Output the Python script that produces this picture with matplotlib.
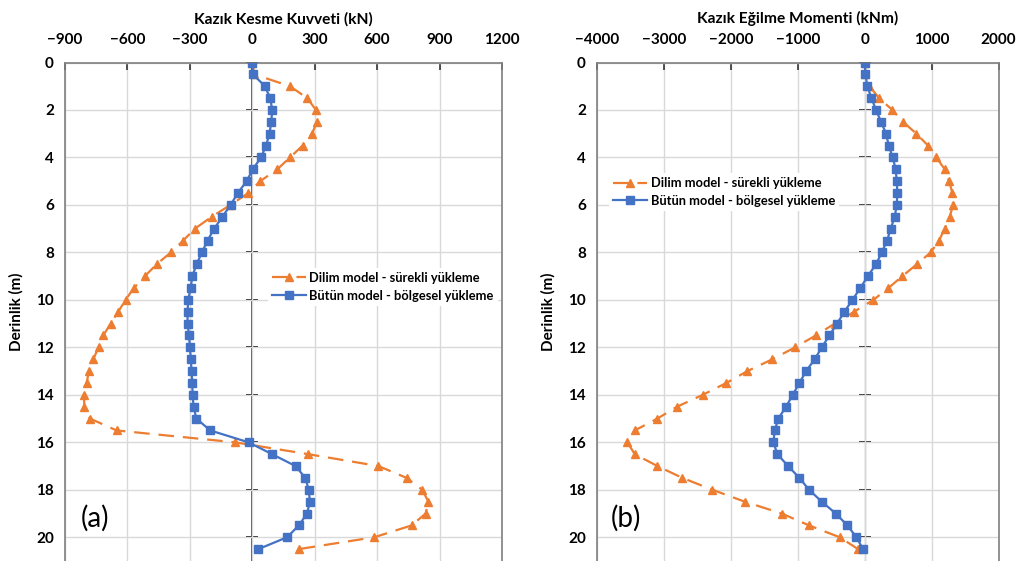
import numpy as np
import matplotlib
matplotlib.use('Agg')
import matplotlib.pyplot as plt

plt.rcParams['font.family'] = ['Lato', 'DejaVu Sans']

# derinlik (m)
depth = [0, 0.5, 1, 1.5, 2, 2.5, 3, 3.5, 4, 4.5, 5, 5.5, 6, 6.5, 7, 7.5, 8, 8.5, 9, 9.5, 10,
         10.5, 11, 11.5, 12, 12.5, 13, 13.5, 14, 14.5, 15, 15.5, 16, 16.5, 17, 17.5, 18, 18.5,
         19, 19.5, 20, 20.5]

# (a) kesme kuvveti (kN)
shear_dilim = [0, 10, 181, 264, 306, 309, 288, 242, 181, 120, 38, -19, -105, -195, -276, -332,
               -391, -460, -516, -569, -609,
               -644, -681, -716, -739, -764, -785, -796, -809, -807, -780, -652, -83, 269, 606,
               742, 817, 846, 833, 766, 586, 223]
shear_butun = [0, 3, 61, 86, 96, 91, 83, 66, 42, 2, -27, -70, -104, -144, -183, -215, -242,
               -268, -288, -296, -308,
               -311, -311, -304, -300, -295, -292, -288, -287, -282, -269, -202, -18, 95, 208,
               255, 271, 277, 263, 224, 167, 29]

# (b) egilme momenti (kNm)
moment_dilim = [0, 10, 70, 214, 413, 573, 772, 946, 1071, 1195, 1260, 1310, 1320, 1270, 1195,
                1111, 986, 777, 563, 354, 130,
                -159, -450, -732, -1041, -1379, -1753, -2067, -2420, -2804, -3098, -3436, -3546,
                -3436, -3098, -2724, -2276, -1793, -1240, -832, -373, -100]
moment_butun = [0, 10, 40, 100, 169, 244, 319, 359, 418, 463, 478, 488, 478, 448, 388, 334, 254,
                169, 45, -65, -184,
                -304, -413, -528, -642, -747, -876, -976, -1076, -1175, -1290, -1345, -1365,
                -1305, -1145, -976, -832, -642, -433, -259, -124, -25]

shear_ticks = [-900, -600, -300, 0, 300, 600, 900, 1200]
moment_ticks = [-4000, -3000, -2000, -1000, 0, 1000, 2000]
depth_ticks = [0, 2, 4, 6, 8, 10, 12, 14, 16, 18, 20]

ORANGE = '#ED7D31'
BLUE = '#4472C4'


def draw_panel(ax, x_dilim, x_butun, xticks, title, tag, legend_pos):
    ax.plot(x_dilim, depth, color=ORANGE, lw=1.6, ls=(0, (7, 4)), marker='^', ms=6,
            label='Dilim model - sürekli yükleme', zorder=3)
    ax.plot(x_butun, depth, color=BLUE, lw=1.6, marker='s', ms=5.5,
            label='Bütün model - bölgesel yükleme', zorder=4)

    ax.set_xlim(xticks[0], xticks[-1])
    ax.set_ylim(21, 0)
    ax.set_xticks(xticks)
    ax.set_yticks(depth_ticks)
    ax.xaxis.tick_top()
    ax.xaxis.set_label_position('top')
    ax.set_xlabel(title, fontsize=11.2, fontweight='bold', labelpad=7)
    ax.tick_params(axis='x', direction='in', length=5, width=1.2, color='#333333',
                   labelsize=11, pad=11)
    ax.tick_params(axis='y', length=0, labelsize=11, pad=8)
    for lab in ax.get_xticklabels() + ax.get_yticklabels():
        lab.set_fontweight('bold')

    ax.grid(True, color='#D9D9D9', lw=1.0)
    ax.set_axisbelow(True)
    for side in ['top', 'right', 'left']:
        ax.spines[side].set_color('#7F7F7F')
        ax.spines[side].set_linewidth(1.2)
    ax.spines['bottom'].set_visible(False)

    # dikey eksen x=0 noktasinda
    x0 = (0 - xticks[0]) / (xticks[-1] - xticks[0])
    sec = ax.secondary_yaxis(x0)
    sec.set_yticks(depth_ticks)
    sec.tick_params(direction='inout', length=9, width=1.2, color='black',
                    labelleft=False, labelright=False)
    sec.spines['left'].set_color('#222222')
    sec.spines['left'].set_linewidth(1.1)

    ax.text(0.035, 0.085, tag, transform=ax.transAxes, fontsize=20, ha='left', va='center')

    leg = ax.legend(loc='center left', bbox_to_anchor=legend_pos, frameon=True,
                    framealpha=1, edgecolor='none', fontsize=9.3, handlelength=2.6,
                    handletextpad=0.3, borderpad=0.3, labelspacing=0.45)
    for t in leg.get_texts():
        t.set_fontweight('bold')


fig = plt.figure(figsize=(10.21, 5.61), dpi=100)
ax1 = fig.add_axes([65 / 1021, 0.0, 437 / 1021, 498.5 / 561])
ax2 = fig.add_axes([597 / 1021, 0.0, 401.6 / 1021, 498.5 / 561])

draw_panel(ax1, shear_dilim, shear_butun, shear_ticks, 'Kazık Kesme Kuvveti (kN)', '(a)',
           (0.45, 0.55))
draw_panel(ax2, moment_dilim, moment_butun, moment_ticks, 'Kazık Eğilme Momenti (kNm)', '(b)',
           (0.015, 0.74))

ax1.set_ylabel('Derinlik (m)', fontsize=11, fontweight='bold', labelpad=9)
ax2.set_ylabel('Derinlik (m)', fontsize=11, fontweight='bold', labelpad=9)

fig.savefig('out.png', dpi=100)
